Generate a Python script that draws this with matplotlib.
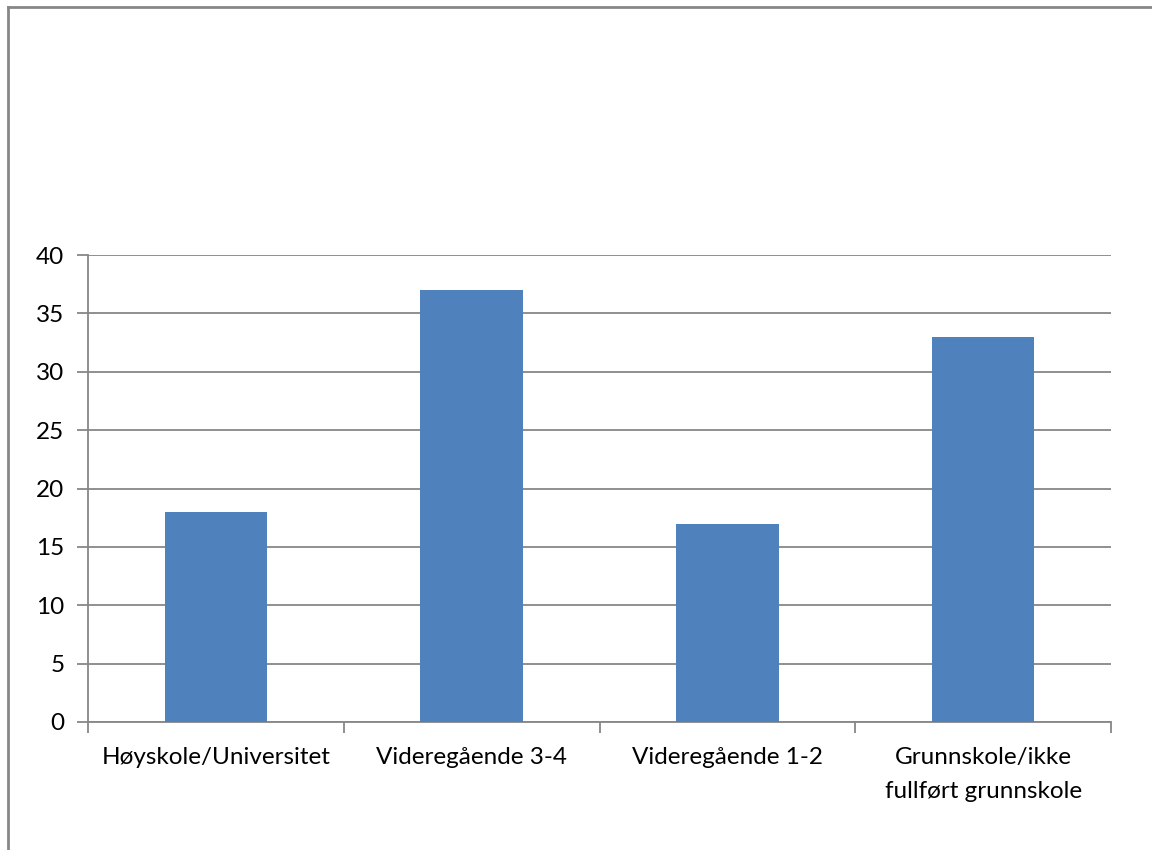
import numpy as np
import matplotlib
matplotlib.use("Agg")
import matplotlib.pyplot as plt
from matplotlib.lines import Line2D

categories = ["Høyskole/Universitet", "Videregående 3-4", "Videregående 1-2",
              "Grunnskole/ikke\nfullført grunnskole"]
values = [18, 37, 17, 33]
yticks = [0, 5, 10, 15, 20, 25, 30, 35, 40]

plt.rcParams['font.family'] = ['Lato', 'DejaVu Sans']
grey = "#878787"

fig = plt.figure(figsize=(11.52, 8.5), dpi=100)
ax = fig.add_axes([88 / 1152, 1 - 722 / 850, (1111 - 88) / 1152, (722 - 255) / 850])

x = np.arange(len(categories))
ax.bar(x, values, width=0.4, color="#4f81bd", zorder=3)

ax.set_xlim(-0.5, len(categories) - 0.5)
ax.set_ylim(0, 40)
ax.set_yticks(yticks)
ax.yaxis.grid(True, color=grey, linewidth=1.3, zorder=0)

ax.set_xticks(x)
ax.set_xticklabels(categories, fontsize=17.5, linespacing=1.75, va="top")
ax.set_xticks(np.arange(len(categories) + 1) - 0.5, minor=True)
ax.tick_params(axis="x", which="major", length=0, pad=18)
ax.tick_params(axis="x", which="minor", length=8, width=1.3, color=grey, direction="out")
ax.tick_params(axis="y", length=8, width=1.3, color=grey, labelsize=17.5, pad=9)

for side in ["top", "right"]:
    ax.spines[side].set_visible(False)
for side in ["left", "bottom"]:
    ax.spines[side].set_color(grey)
    ax.spines[side].set_linewidth(1.3)

# outer chart border (left and top visible)
fig.add_artist(Line2D([8 / 1152, 8 / 1152], [0, 1 - 7 / 850], color=grey, linewidth=2))
fig.add_artist(Line2D([8 / 1152, 1], [1 - 7 / 850, 1 - 7 / 850], color=grey, linewidth=2))

fig.savefig("out.png", dpi=100, facecolor="white")
